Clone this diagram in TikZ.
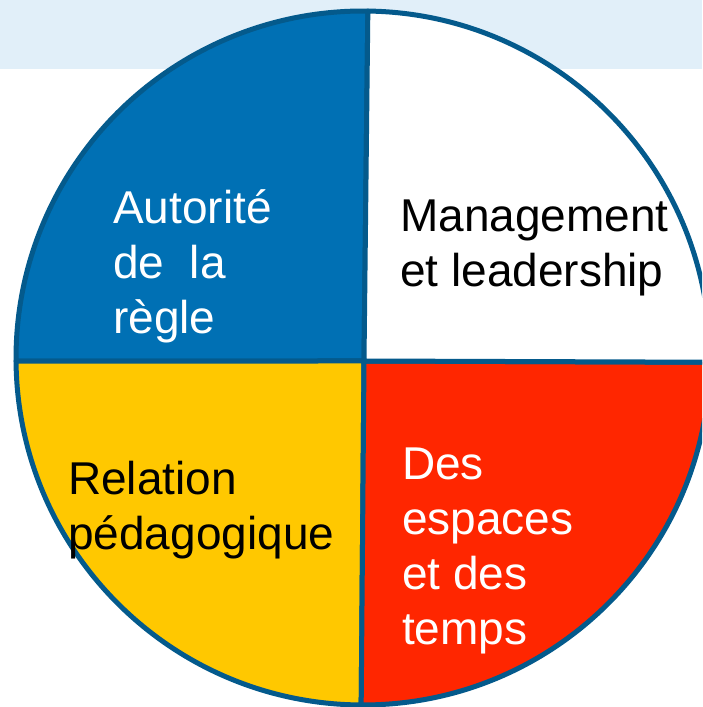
\documentclass[tikz,border=0pt]{standalone}
\usepackage{fontspec}
\setmainfont{Liberation Sans}
\usepackage{xcolor}
\usetikzlibrary{calc}
\definecolor{bandblue}{RGB}{225,239,249}
\definecolor{pieblue}{RGB}{0,112,180}
\definecolor{pieline}{RGB}{4,90,140}
\definecolor{pieyellow}{RGB}{255,200,0}
\definecolor{piered}{RGB}{255,38,0}

\begin{document}
\begin{tikzpicture}[
    x=1pt, y=1pt,
    slice/.style={draw=pieline, line width=5pt, line join=round},
    label/.style={inner sep=0pt, anchor=base west, align=left, font=\fontsize{46}{55}\selectfont},
]
    \useasboundingbox (0,0) rectangle (702,707);
    \clip (0,0) rectangle (702,707);
    \fill[white] (0,0) rectangle (702,707);

    % Header band (top)
    \fill[bandblue] (0,638) rectangle (702,707);

    % Circle centre and hub of the dividers
    \coordinate (centre) at (363,349);
    \coordinate (hub) at (364,346);

    % Quadrants
    \draw[slice, fill=pieblue] (hub) -- ($(centre)+(89.2:347)$) arc[start angle=89.2, end angle=180.5, radius=347] -- cycle;
    \draw[slice, fill=pieyellow] (hub) -- ($(centre)+(180.5:347)$) arc[start angle=180.5, end angle=269.7, radius=347] -- cycle;
    \draw[slice, fill=piered] (hub) -- ($(centre)+(269.7:347)$) arc[start angle=269.7, end angle=359.3, radius=347] -- cycle;
    \draw[slice, fill=white] (hub) -- ($(centre)+(-0.7:347)$) arc[start angle=-0.7, end angle=89.2, radius=347] -- cycle;

    % Labels (anchored at the baseline of their last line)
    \node[label, text=white] (autorite) at (113,373) {Autorité\\de~~la\\règle};
    \node[label, text=black] (management) at (400,420) {Management\\et leadership};
    \node[label, text=black] (relation) at (68,157) {Relation\\pédagogique};
    \node[label, text=white] (espaces) at (402,62) {Des\\espaces\\et des\\temps};
\end{tikzpicture}
\end{document}
